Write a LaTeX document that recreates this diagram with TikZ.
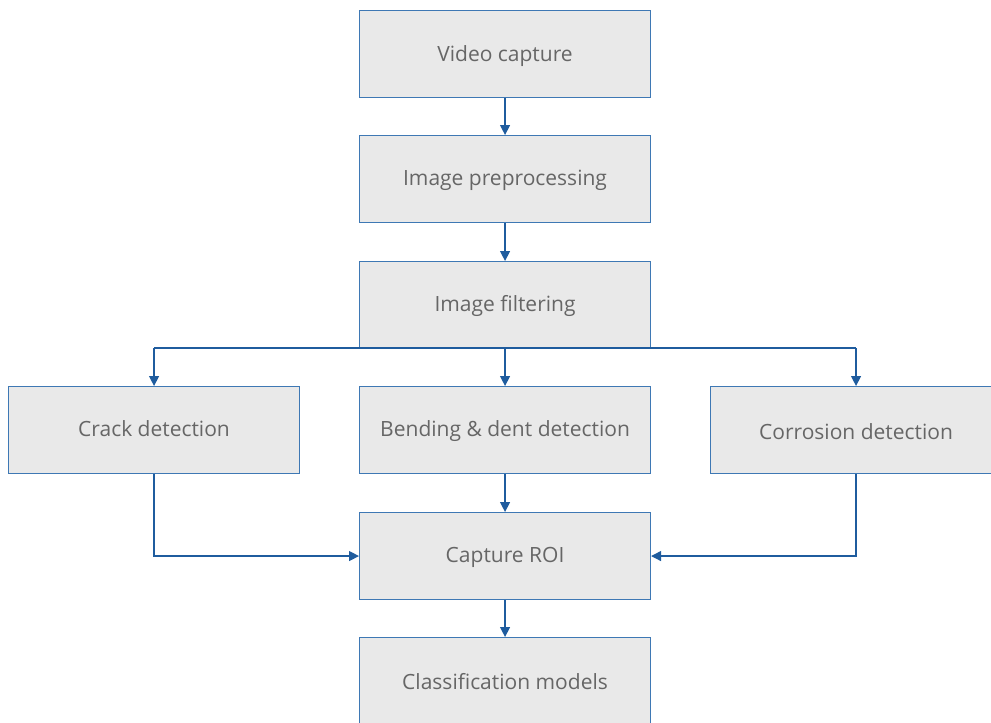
\documentclass[tikz,border=0pt]{standalone}
\usepackage{fontspec}
\setmainfont{Open Sans}
\usetikzlibrary{arrows.meta}
\definecolor{boxfill}{HTML}{E9E9E9}
\definecolor{boxline}{HTML}{3E78B4}
\definecolor{arrowc}{HTML}{1F5C9E}
\definecolor{txt}{HTML}{666666}
\begin{document}
\begin{tikzpicture}[x=1pt,y=-1pt,
  stepbox/.style={draw=boxline, line width=1.1pt, fill=boxfill, minimum width=291pt, minimum height=87pt, inner sep=0pt, anchor=north west},
  lbl/.style={text=txt, font=\fontsize{21}{25}\selectfont, inner sep=0pt, anchor=mid},
  conn/.style={draw=arrowc, line width=1.3pt, -{Triangle[length=10pt,width=10pt]}},
  flat/.style={draw=arrowc, line width=1.3pt}]
\useasboundingbox (0,0) rectangle (991,723);
\begin{scope}
\clip (0,0) rectangle (991,723);
\node[stepbox] (video) at (359,10) {};
\node[stepbox] (pre) at (359,135) {};
\node[stepbox] (filt) at (359,261) {};
\node[stepbox] (crack) at (8,386) {};
\node[stepbox] (bend) at (359,386) {};
\node[stepbox] (corr) at (710,386) {};
\node[stepbox] (roi) at (359,512) {};
\node[stepbox] (cls) at (359,637) {};
\node[lbl] (tvideo) at ([yshift=-5pt]video.center) {Video capture};
\node[lbl] (tpre) at ([yshift=-4pt]pre.center) {Image preprocessing};
\node[lbl] (tfilt) at ([yshift=-4pt]filt.center) {Image filtering};
\node[lbl] (tcrack) at ([yshift=-4pt]crack.center) {Crack detection};
\node[lbl] (tbend) at ([yshift=-4pt]bend.center) {Bending \& dent detection};
\node[lbl] (tcorr) at ([yshift=-7pt]corr.center) {Corrosion detection};
\node[lbl] (troi) at ([yshift=-4pt]roi.center) {Capture ROI};
\node[lbl] (tcls) at ([yshift=-5.5pt]cls.center) {Classification models};
\coordinate (split) at (505,348);
\draw[conn] (video.south) -- (pre.north);
\draw[conn] (pre.south) -- (filt.north);
\draw[conn] (filt.south) -- (bend.north);
\draw[flat] (split -| crack.north) -- (split -| corr.north);
\draw[conn] (split -| crack.north) -- (crack.north);
\draw[conn] (split -| corr.north) -- (corr.north);
\draw[conn] (bend.south) -- (roi.north);
\draw[conn] (crack.south) |- (roi.west);
\draw[conn] (corr.south) |- (roi.east);
\draw[conn] (roi.south) -- (cls.north);
\end{scope}
\end{tikzpicture}
\end{document}
